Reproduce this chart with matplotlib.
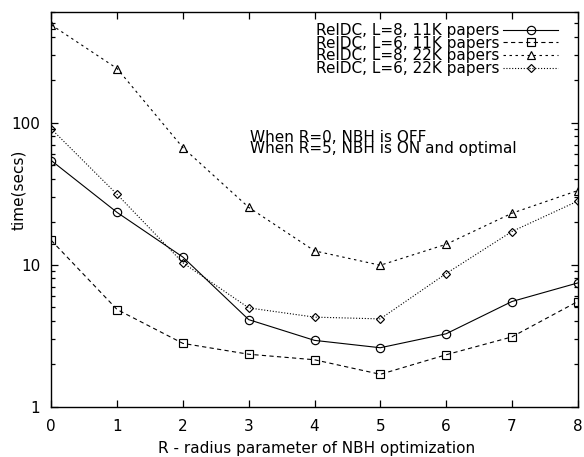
import matplotlib
matplotlib.use("Agg")
import matplotlib.pyplot as plt
from matplotlib.ticker import LogLocator, NullFormatter, FixedLocator, FixedFormatter

plt.rcParams['font.family'] = ['DejaVu Sans']
FS = 11

# radius parameter of the NBH optimization
radius = [0, 1, 2, 3, 4, 5, 6, 7, 8]

# running time in seconds for each configuration
t_l8_11k = [54, 23.3, 11.3, 4.1, 2.93, 2.6, 3.26, 5.5, 7.43]
t_l6_11k = [14.8, 4.83, 2.79, 2.34, 2.14, 1.69, 2.32, 3.10, 5.5]
t_l8_22k = [487, 240, 66.6, 25.3, 12.5, 9.9, 13.9, 23.0, 33.2]
t_l6_22k = [90.2, 31.2, 10.3, 4.96, 4.27, 4.15, 8.65, 17.1, 28.0]

labels = [
    "RelDC, L=8, 11K papers",
    "RelDC, L=6, 11K papers",
    "RelDC, L=8, 22K papers",
    "RelDC, L=6, 22K papers",
]
y_ticks = [1, 10, 100]
y_ticklabels = ["1", "10", "100"]

W, H = 584, 457
fig = plt.figure(figsize=(W / 100, H / 100), dpi=100)
left, right, top, bottom = 51.3, 577.7, 12.0, 406.7
ax = fig.add_axes([left / W, 1 - bottom / H, (right - left) / W, (bottom - top) / H])

lw = 0.8
common = dict(color="black", lw=lw, markerfacecolor="none", markeredgecolor="black",
              markeredgewidth=0.85)
ax.plot(radius, t_l8_11k, linestyle="-", marker="o", markersize=6, label=labels[0], **common)
ax.plot(radius, t_l6_11k, linestyle=(0, (3.8, 3.0)), marker="s", markersize=5.6, label=labels[1], **common)
ax.plot(radius, t_l8_22k, linestyle=(0, (2.2, 3.2)), marker="^", markersize=6, label=labels[2], **common)
ax.plot(radius, t_l6_22k, linestyle=(0, (1.0, 1.6)), marker="D", markersize=4.5, label=labels[3], **common)

ax.set_yscale("log")
ax.set_xlim(0, 8)
ax.set_ylim(1, 600)
ax.set_xticks(radius)
ax.yaxis.set_major_locator(FixedLocator(y_ticks))
ax.yaxis.set_major_formatter(FixedFormatter(y_ticklabels))
ax.yaxis.set_minor_locator(LogLocator(base=10, subs=[2, 3, 4, 5, 6, 7, 8, 9]))
ax.yaxis.set_minor_formatter(NullFormatter())

for s in ax.spines.values():
    s.set_linewidth(1.0)
ax.tick_params(which="major", direction="in", length=5, width=0.9,
               top=True, right=True, labelsize=FS)
ax.tick_params(axis="x", which="major", pad=8.5)
ax.tick_params(axis="y", which="major", pad=8)
ax.tick_params(which="minor", direction="in", length=3, width=0.9, top=True, right=True)

fig.text(19 / W, 1 - 190 / H, "time(secs)", rotation=90, ha="center", va="center", fontsize=FS)
fig.text(317 / W, 1 - 453.3 / H, "R - radius parameter of NBH optimization",
         ha="center", va="baseline", fontsize=FS)

ax.text((250 - left) / (right - left), (bottom - 141.7) / (bottom - top),
        "When R=0, NBH is OFF", transform=ax.transAxes, fontsize=FS, va="baseline")
ax.text((250 - left) / (right - left), (bottom - 153.3) / (bottom - top),
        "When R=5, NBH is ON and optimal", transform=ax.transAxes, fontsize=FS, va="baseline")

ax.legend(loc="upper right", bbox_to_anchor=(558 / W, 1 - 23 / H), bbox_transform=fig.transFigure,
          frameon=False, markerfirst=False, fontsize=FS, handlelength=3.6,
          handletextpad=0.25, labelspacing=-0.15, borderpad=0, borderaxespad=0)

fig.savefig("out.png", dpi=100)
